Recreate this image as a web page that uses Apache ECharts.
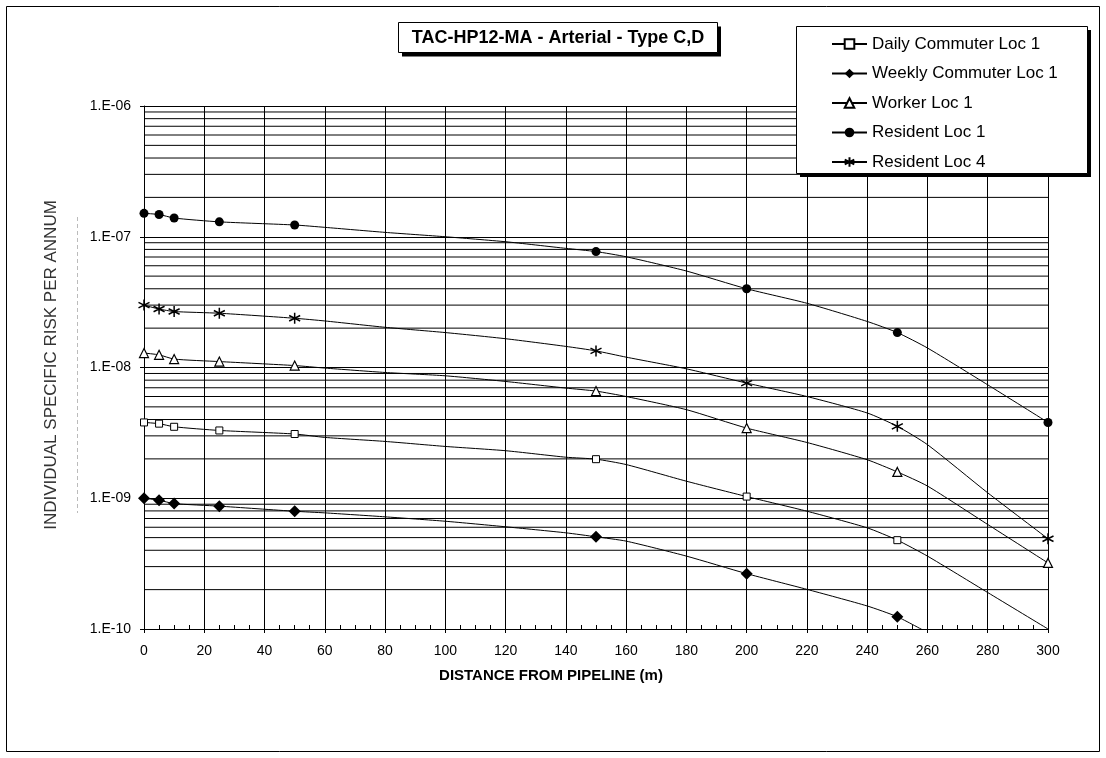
<!DOCTYPE html>
<html>
<head>
<meta charset="utf-8">
<title>TAC-HP12-MA - Arterial - Type C,D</title>
<script src="https://cdn.jsdelivr.net/npm/echarts@6/dist/echarts.min.js"></script>
<style>
  html, body { margin: 0; padding: 0; background: #fff; }
  #E1 { width: 1106px; height: 758px; }
</style>
</head>
<body>
<div id="E1"></div>
<script>
// distance from pipeline (m) of every reading on the curves
var distance = [0, 5, 10, 25, 50, 60, 80, 100, 120, 140, 150, 160, 180, 200, 220, 240, 250, 260, 280, 300];
// readings that carry a marker
var markedDistance = [0, 5, 10, 25, 50, 150, 200, 250, 300];

// individual specific risk per annum, one value per distance
var dailyCommuterLoc1  = [3.8e-9, 3.72e-9, 3.52e-9, 3.3e-9, 3.1e-9, 2.92e-9, 2.72e-9, 2.49e-9, 2.31e-9, 2.06e-9, 1.99e-9, 1.81e-9, 1.35e-9, 1.03e-9, 7.96e-10, 5.94e-10, 4.78e-10, 3.61e-10, 1.9e-10, 1.0e-10];
var weeklyCommuterLoc1 = [1.0e-9, 9.66e-10, 9.1e-10, 8.7e-10, 7.95e-10, 7.73e-10, 7.21e-10, 6.67e-10, 6.05e-10, 5.44e-10, 5.07e-10, 4.7e-10, 3.61e-10, 2.65e-10, 2.01e-10, 1.5e-10, 1.24e-10, 9.4e-11, null, null];
var workerLoc1         = [1.29e-8, 1.25e-8, 1.16e-8, 1.11e-8, 1.035e-8, 9.9e-9, 9.16e-9, 8.64e-9, 7.82e-9, 6.96e-9, 6.6e-9, 6.0e-9, 4.76e-9, 3.44e-9, 2.67e-9, 1.97e-9, 1.59e-9, 1.24e-9, 6.3e-10, 3.2e-10];
var residentLoc1       = [1.51e-7, 1.48e-7, 1.39e-7, 1.30e-7, 1.23e-7, 1.18e-7, 1.08e-7, 1.0e-7, 9.16e-8, 8.15e-8, 7.7e-8, 7.03e-8, 5.47e-8, 4.0e-8, 3.1e-8, 2.25e-8, 1.85e-8, 1.41e-8, 7.37e-9, 3.8e-9];
var residentLoc4       = [3.0e-8, 2.8e-8, 2.68e-8, 2.6e-8, 2.38e-8, 2.27e-8, 2.03e-8, 1.85e-8, 1.66e-8, 1.45e-8, 1.34e-8, 1.2e-8, 9.77e-9, 7.6e-9, 6.0e-9, 4.49e-9, 3.55e-9, 2.57e-9, 1.1e-9, 4.9e-10];

var seriesNames = ['Daily Commuter Loc 1', 'Weekly Commuter Loc 1', 'Worker Loc 1', 'Resident Loc 1', 'Resident Loc 4'];

// axis
var xMin = 0;
var xMax = 300;
var yMin = 1e-10;
var yMax = 1e-6;
var decades = [1e-10, 1e-9, 1e-8, 1e-7];
var minorSteps = [2, 3, 4, 5, 6, 7, 8, 9];

var FONT = '"Liberation Sans", Arial, sans-serif';
var STAR = 'path://M5,0L5,10M0.7,2.5L9.3,7.5M0.7,7.5L9.3,2.5';

// marker only on the measured distances
var buildData = function (values) {
    var out = [];
    for (var i = 0; i < distance.length; i++) {
        var marked = markedDistance.indexOf(distance[i]) > -1 && values[i] > yMin;
        if (marked) {
            out.push([distance[i], values[i]]);
        } else {
            out.push({ value: [distance[i], values[i]], symbol: 'none' });
        }
    }
    return out;
};

var lineSeries = function (name, values, symbol, size, fill, border) {
    return {
        name: name,
        type: 'line',
        z: 5,
        data: buildData(values),
        symbol: symbol,
        symbolSize: size,
        showAllSymbol: true,
        smooth: 0.2,
        clip: true,
        lineStyle: { color: '#000', width: 1 },
        itemStyle: { color: fill, borderColor: '#000', borderWidth: border },
        emphasis: { disabled: true }
    };
};

// 2..9 gridlines inside each decade, drawn as flat lines on the axes
var gridSeries = [];
for (var d = 0; d < decades.length; d++) {
    for (var m = 0; m < minorSteps.length; m++) {
        var level = minorSteps[m] * decades[d];
        gridSeries.push({
            type: 'line',
            z: 1,
            silent: true,
            symbol: 'none',
            data: [[xMin, level], [xMax, level]],
            lineStyle: { color: '#000', width: 1 },
            emphasis: { disabled: true }
        });
    }
}

var option = {
    animation: false,
    backgroundColor: '#fff',
    textStyle: { fontFamily: FONT },
    grid: {
        left: 144,
        right: 58,
        top: 106,
        bottom: 129,
        containLabel: false,
        outerBoundsMode: 'none'
    },
    legend: {
        data: seriesNames,
        orient: 'vertical',
        left: 831,
        top: 34,
        padding: 0,
        itemWidth: 35,
        itemHeight: 12,
        itemGap: 9.5,
        z: 20,
        selectedMode: false,
        textStyle: { fontSize: 17, color: '#000', lineHeight: 20, fontFamily: FONT }
    },
    xAxis: {
        type: 'value',
        min: xMin,
        max: xMax,
        interval: 20,
        axisLine: { lineStyle: { color: '#000', width: 1 } },
        axisTick: { show: true, length: 4, lineStyle: { color: '#000' } },
        minorTick: { show: true, splitNumber: 4, length: -4, lineStyle: { color: '#000' } },
        axisLabel: { fontSize: 14, color: '#000', margin: 15, fontFamily: FONT },
        splitLine: { show: true, lineStyle: { color: '#000', width: 1 } }
    },
    yAxis: {
        type: 'log',
        logBase: 10,
        min: yMin,
        max: yMax,
        axisLine: { show: true, lineStyle: { color: '#000', width: 1 } },
        axisTick: { show: true, length: 4, lineStyle: { color: '#000' } },
        axisLabel: {
            fontSize: 14,
            color: '#000',
            margin: 13,
            fontFamily: FONT,
            formatter: function (v) {
                var e = Math.round(Math.log(v) / Math.LN10);
                var a = Math.abs(e);
                return '1.E' + (e < 0 ? '-' : '+') + (a < 10 ? '0' : '') + a;
            }
        },
        splitLine: { show: true, lineStyle: { color: '#000', width: 1 } }
    },
    series: gridSeries.concat([
        lineSeries(seriesNames[0], dailyCommuterLoc1, 'rect', 7, '#fff', 1),
        lineSeries(seriesNames[1], weeklyCommuterLoc1, 'diamond', 12, '#000', 0),
        lineSeries(seriesNames[2], workerLoc1, 'triangle', 9, '#fff', 1.2),
        lineSeries(seriesNames[3], residentLoc1, 'circle', 9, '#000', 0),
        lineSeries(seriesNames[4], residentLoc4, STAR, 11, '#000', 1.5)
    ]),
    graphic: [
        // outer frame
        { type: 'rect', z: 0, silent: true, shape: { x: 6.5, y: 6.5, width: 1093, height: 745 },
          style: { fill: 'none', stroke: '#000', lineWidth: 1 } },
        // title box
        { type: 'rect', z: 10, silent: true, shape: { x: 402, y: 26.5, width: 319, height: 30 },
          style: { fill: '#000' } },
        { type: 'rect', z: 11, silent: true, shape: { x: 398.5, y: 22.5, width: 319, height: 30 },
          style: { fill: '#fff', stroke: '#000', lineWidth: 1 } },
        { type: 'text', z: 12, silent: true, x: 558, y: 38,
          style: { text: 'TAC-HP12-MA - Arterial - Type C,D', font: 'bold 18px ' + FONT,
                   fill: '#000', align: 'center', verticalAlign: 'middle' } },
        // legend box
        { type: 'rect', z: 10, silent: true, shape: { x: 800, y: 30, width: 291, height: 147 },
          style: { fill: '#000' } },
        { type: 'rect', z: 11, silent: true, shape: { x: 796.5, y: 26.5, width: 291, height: 147 },
          style: { fill: '#fff', stroke: '#000', lineWidth: 1 } },
        // axis titles
        { type: 'text', z: 12, silent: true, x: 551, y: 676,
          style: { text: 'DISTANCE FROM PIPELINE (m)', font: 'bold 15px ' + FONT,
                   fill: '#000', align: 'center', verticalAlign: 'middle' } },
        { type: 'line', z: 2, silent: true, shape: { x1: 77.5, y1: 217, x2: 77.5, y2: 513 },
          style: { stroke: '#bbb', lineWidth: 1, lineDash: [4, 3] } },
        { type: 'text', z: 12, silent: true, x: 51, y: 365, rotation: Math.PI / 2,
          style: { text: 'INDIVIDUAL SPECIFIC RISK PER ANNUM', font: '17px ' + FONT,
                   fill: '#333', align: 'center', verticalAlign: 'middle' } }
    ]
};

//render Dom
var chart = echarts.init(document.getElementById('E1'));
chart.setOption(option);
</script>
</body>
</html>
